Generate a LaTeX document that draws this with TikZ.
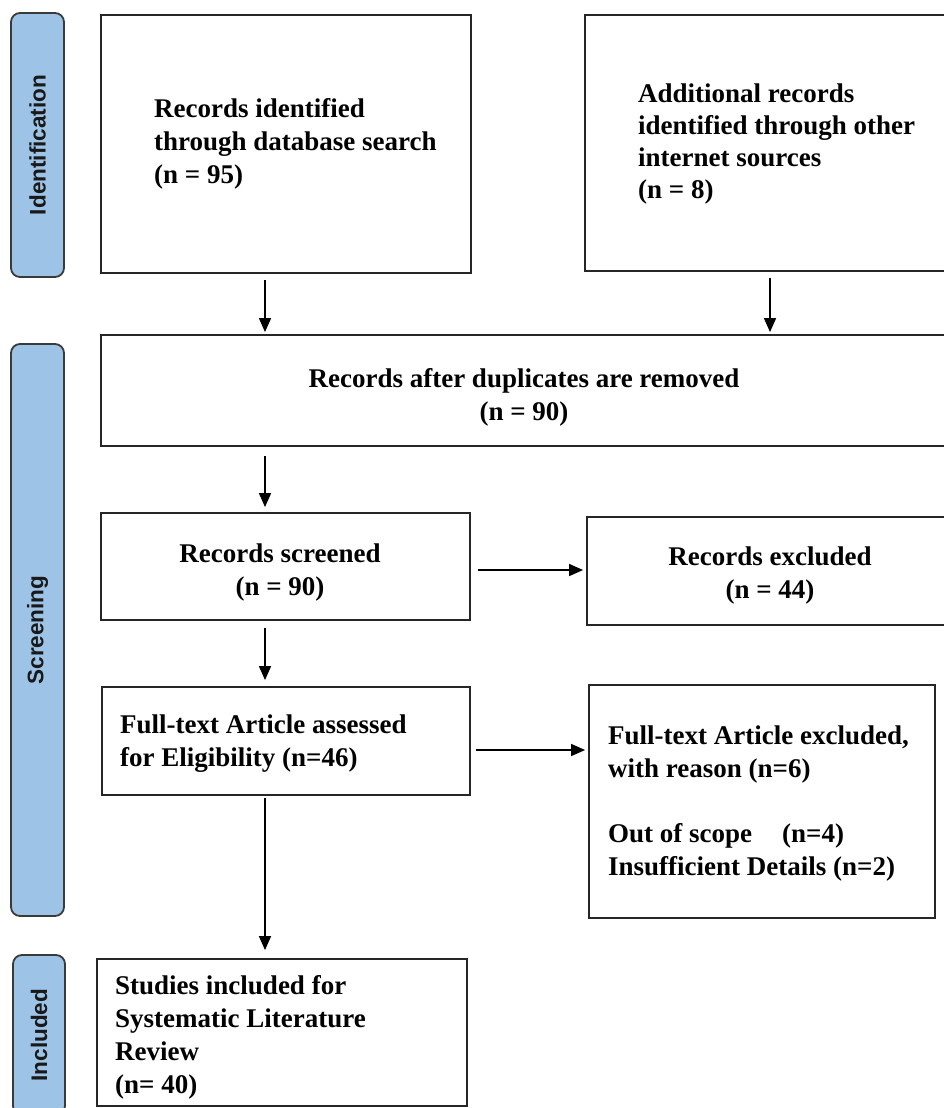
\documentclass[tikz,border=0pt]{standalone}
\usepackage{fontspec}
\setmainfont{Liberation Serif}
\newfontfamily\labelfont{Liberation Sans}
\usetikzlibrary{arrows.meta}
\definecolor{phasefill}{HTML}{9DC3E6}
\definecolor{phaseline}{HTML}{3A3A3A}
\definecolor{boxline}{HTML}{262626}
\begin{document}
\begin{tikzpicture}[x=1pt,y=-1pt,
  phasebox/.style={draw=phaseline, line width=1.8pt, fill=phasefill, rounded corners=9pt,
    rotate=90, inner sep=0pt, font=\labelfont\bfseries\fontsize{22.5}{27}\selectfont, text=black!90},
  flowbox/.style={draw=boxline, line width=1.8pt, inner sep=0pt},
  flowtext/.style={inner sep=0pt, font=\bfseries\fontsize{27}{33}\selectfont},
  arr/.style={line width=1.5pt, -{Triangle[length=14pt,width=12pt]}}
]
\useasboundingbox (0,0) rectangle (944,1108);

% phase labels
\node[phasebox, minimum width=264pt, minimum height=53pt] (pid) at (37.5,145) {Identification};
\node[phasebox, minimum width=572pt, minimum height=53pt] (psc) at (37.5,630) {Screening};
\node[phasebox, minimum width=160pt, minimum height=52pt] (pin) at (39,1035) {Included};

% boxes
\node[flowbox, minimum width=370pt, minimum height=258pt] (b1) at (286,144) {};
\node[flowbox, minimum width=365pt, minimum height=256pt] (b2) at (767.5,143) {};
\node[flowbox, minimum width=849pt, minimum height=111pt] (b3) at (525.5,390.5) {};
\node[flowbox, minimum width=369pt, minimum height=107pt] (b4) at (285.5,566.5) {};
\node[flowbox, minimum width=366pt, minimum height=108pt] (b5) at (770,571) {};
\node[flowbox, minimum width=368pt, minimum height=108pt] (b6) at (286,741) {};
\node[flowbox, minimum width=346pt, minimum height=233pt] (b7) at (762,801.5) {};
\node[flowbox, minimum width=370pt, minimum height=147pt] (b8) at (282,1032.5) {};

% texts (anchor = baseline of the last line)
\node[flowtext, anchor=base west, align=left] (t1) at (154,183)
  {Records identified\\through database search\\(n = 95)};
\node[flowtext, anchor=base west, align=left, font=\bfseries\fontsize{27}{32}\selectfont] (t2) at (638,198)
  {Additional records\\identified through other\\internet sources\\(n = 8)};
\node[flowtext, anchor=base, align=center] (t3) at (524,420)
  {Records after duplicates are removed\\(n = 90)};
\node[flowtext, anchor=base, align=center] (t4) at (280,595)
  {Records screened\\(n = 90)};
\node[flowtext, anchor=base, align=center] (t5) at (770,598)
  {Records excluded\\(n = 44)};
\node[flowtext, anchor=base west, align=left] (t6) at (120,766)
  {Full-text Article assessed\\for Eligibility (n=46)};
\node[flowtext, anchor=base west, align=left, font=\bfseries\fontsize{27}{32.5}\selectfont] (t7) at (608,875)
  {Full-text Article excluded,\\with reason (n=6)\\[33pt]Out of scope\hspace{30pt}(n=4)\\Insufficient Details (n=2)};
\node[flowtext, anchor=base west, align=left, font=\bfseries\fontsize{27}{32.7}\selectfont] (t8) at (115,1093)
  {Studies included for\\Systematic Literature\\Review\\(n= 40)};

% connectors
\coordinate (c1) at (265,0);
\coordinate (c2) at (770,0);
\coordinate (r1) at (0,570);
\coordinate (r2) at (0,750);
\draw[arr, shorten <=6pt, shorten >=2pt] (b1.south -| c1) -- (b3.north -| c1);
\draw[arr, shorten <=6pt, shorten >=2pt] (b2.south -| c2) -- (b3.north -| c2);
\draw[arr, shorten <=9pt, shorten >=5pt] (b3.south -| c1) -- (b4.north -| c1);
\draw[arr, shorten <=7pt, shorten >=3pt] (b4.east |- r1) -- (b5.west |- r1);
\draw[arr, shorten <=7pt, shorten >=6pt] (b4.south -| c1) -- (b6.north -| c1);
\draw[arr, shorten <=5pt, shorten >=3pt] (b6.east |- r2) -- (b7.west |- r2);
\draw[arr, shorten <=2pt, shorten >=8pt] (b6.south -| c1) -- (b8.north -| c1);
\end{tikzpicture}
\end{document}
